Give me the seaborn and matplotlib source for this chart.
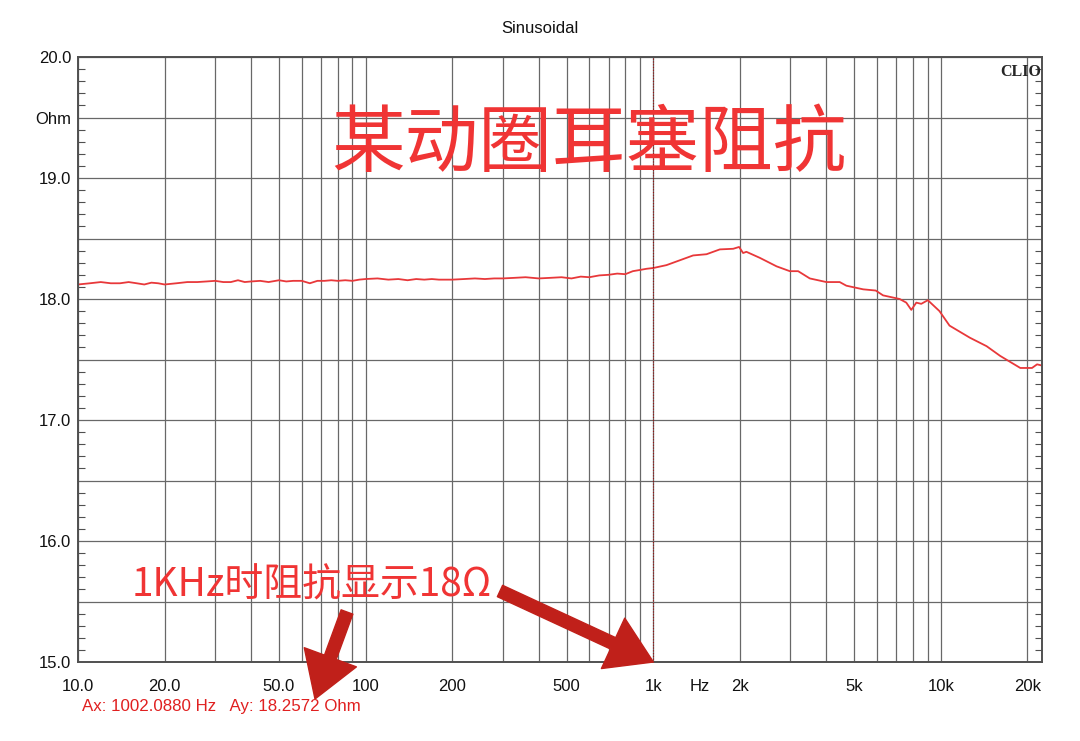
import pandas as pd
import seaborn as sns
import matplotlib.pyplot as plt
from matplotlib.ticker import FixedLocator, MultipleLocator, NullFormatter
from matplotlib.transforms import blended_transform_factory

# Impedance curve
freq_hz = [10, 11, 12, 13, 14, 15, 16, 17, 18, 19, 20, 22, 24, 26, 28, 30, 32, 34, 36, 38,
           40, 43, 46, 50, 53, 56, 60, 64, 68, 72, 76, 80, 85, 90, 95, 100, 110, 120, 130, 140,
           150, 160, 170, 180, 200, 220, 240, 260, 280, 300, 330, 360, 400, 440, 480, 520, 560,
           600, 650, 700, 750, 800, 850, 900, 950, 1000, 1113, 1238, 1377, 1533, 1706, 1898,
           1990, 2055, 2110, 2350, 2686, 2987, 3193, 3505, 4002, 4454, 4697, 5372, 5942, 6302,
           7198, 7590, 7900, 8226, 8555, 9020, 9900, 10730, 11640, 12630, 14440, 16090, 17440,
           18910, 20770, 21630, 22500]
impedance_ohm = [18.12, 18.13, 18.14, 18.13, 18.13, 18.14, 18.13, 18.12, 18.135, 18.13, 18.12,
                 18.13, 18.14, 18.14, 18.145, 18.15, 18.14, 18.14, 18.155, 18.14, 18.145, 18.15,
                 18.14, 18.155, 18.145, 18.15, 18.15, 18.13, 18.15, 18.15, 18.155, 18.15, 18.155,
                 18.15, 18.16, 18.165, 18.17, 18.16, 18.165, 18.155, 18.165, 18.16, 18.165, 18.16,
                 18.16, 18.165, 18.17, 18.165, 18.17, 18.17, 18.175, 18.18, 18.17, 18.175, 18.18,
                 18.17, 18.185, 18.18, 18.195, 18.20, 18.21, 18.205, 18.23, 18.24, 18.25, 18.256,
                 18.28, 18.32, 18.36, 18.37, 18.41, 18.415, 18.43, 18.38, 18.39, 18.34, 18.27,
                 18.23, 18.23, 18.17, 18.14, 18.14, 18.11, 18.08, 18.07, 18.03, 18.0, 17.97, 17.91,
                 17.97, 17.96, 17.99, 17.90, 17.78, 17.73, 17.68, 17.61, 17.53, 17.48, 17.43,
                 17.43, 17.46, 17.45]

x_ticks = [10, 20, 50, 100, 200, 500, 1000, 2000, 5000, 10000, 20000]
x_labels = ['10.0', '20.0', '50.0', '100', '200', '500', '1k', '2k', '5k', '10k', '20k']
y_ticks = [15, 15.5, 16, 16.5, 17, 17.5, 18, 18.5, 19, 19.5, 20]
y_labels = ['15.0', '', '16.0', '', '17.0', '', '18.0', '', '19.0', 'Ohm', '20.0']

cursor_hz = 1002.088
cursor_ohm = 18.2572

df = pd.DataFrame({'freq': freq_hz, 'ohm': impedance_ohm})

sns.set_style('white')
plt.rcParams['font.family'] = ['Liberation Sans', 'Noto Sans CJK SC', 'DejaVu Sans']

fig = plt.figure(figsize=(10.8, 7.41), dpi=100)
ax = fig.add_axes([78 / 1080, 1 - 662 / 741, (1042 - 78) / 1080, (662 - 57) / 741])

sns.lineplot(data=df, x='freq', y='ohm', color='#e8383a', linewidth=1.3, ax=ax)

ax.set_xscale('log')
ax.set_xlim(10, 22500)
ax.set_ylim(15, 20)

# grid: every integer multiple on x, every 0.5 ohm on y
ax.xaxis.set_major_locator(FixedLocator(x_ticks))
ax.set_xticklabels(x_labels)
minor_x = [m * 10 ** d for d in range(1, 5) for m in range(2, 10) if m * 10 ** d <= 22500]
ax.xaxis.set_minor_locator(FixedLocator(minor_x))
ax.xaxis.set_minor_formatter(NullFormatter())
ax.yaxis.set_major_locator(FixedLocator(y_ticks))
ax.set_yticklabels(y_labels)
ax.yaxis.set_minor_locator(MultipleLocator(0.1))

ax.grid(True, which='major', color='#686868', linewidth=0.9)
ax.grid(True, which='minor', axis='x', color='#686868', linewidth=0.9)
ax.tick_params(axis='x', which='both', length=0, pad=12, labelsize=12, colors='#111111')
ax.tick_params(axis='y', which='major', length=0, pad=5, labelsize=12, colors='#111111')
ax.tick_params(axis='y', which='minor', direction='in', length=5, width=0.8,
               color='#505050', left=True, right=True)
for s in ax.spines.values():
    s.set_color('#505050')
    s.set_linewidth(1.4)

ax.set_xlabel('')
ax.set_ylabel('')

# cursor at 1 kHz
ax.axvline(cursor_hz, color='#a01010', linewidth=0.8, linestyle=(0, (1, 1.5)))

trans = blended_transform_factory(ax.transData, ax.transAxes)
ax.text(1450, -12 * 100 / 72 / 605, 'Hz', transform=trans, ha='center', va='top',
        fontsize=12, color='#111111')

ax.text(0.999, 0.988, 'CLIO', transform=ax.transAxes, ha='right', va='top',
        fontsize=11.5, fontweight='bold', family='Liberation Serif')

fig.text(0.5, 0.961, 'Sinusoidal', ha='center', va='center', fontsize=12, color='#111111')

fig.text(589 / 1080, 1 - 145 / 741, '某动圈耳塞阻抗', ha='center', va='center',
         fontsize=53, color='#f03434', family=['Noto Sans CJK SC', 'DejaVu Sans'])

fig.text(312 / 1080, 1 - 585 / 741, '1KHz时阻抗显示18Ω', ha='center', va='center',
         fontsize=28, color='#f03434', family=['Noto Sans CJK SC', 'DejaVu Sans'])

fig.text(82 / 1080, 1 - 707 / 741, f'Ax: {cursor_hz:.4f} Hz   Ay: {cursor_ohm:.4f} Ohm',
         ha='left', va='center', fontsize=12.2, color='#e02020')

arrow = dict(arrowstyle='simple,head_length=1.6,head_width=2.0,tail_width=0.45',
             mutation_scale=20, color='#c0201a', shrinkA=0, shrinkB=0)
ax.annotate('', xy=(cursor_hz, 15.0), xycoords='data',
            xytext=(500 / 1080, 1 - 591 / 741), textcoords='figure fraction', arrowprops=arrow)
ax.annotate('', xy=(315 / 1080, 1 - 699 / 741), xycoords='figure fraction',
            xytext=(347 / 1080, 1 - 612 / 741), textcoords='figure fraction', arrowprops=arrow,
            annotation_clip=False)

fig.savefig('out.png', dpi=100)
